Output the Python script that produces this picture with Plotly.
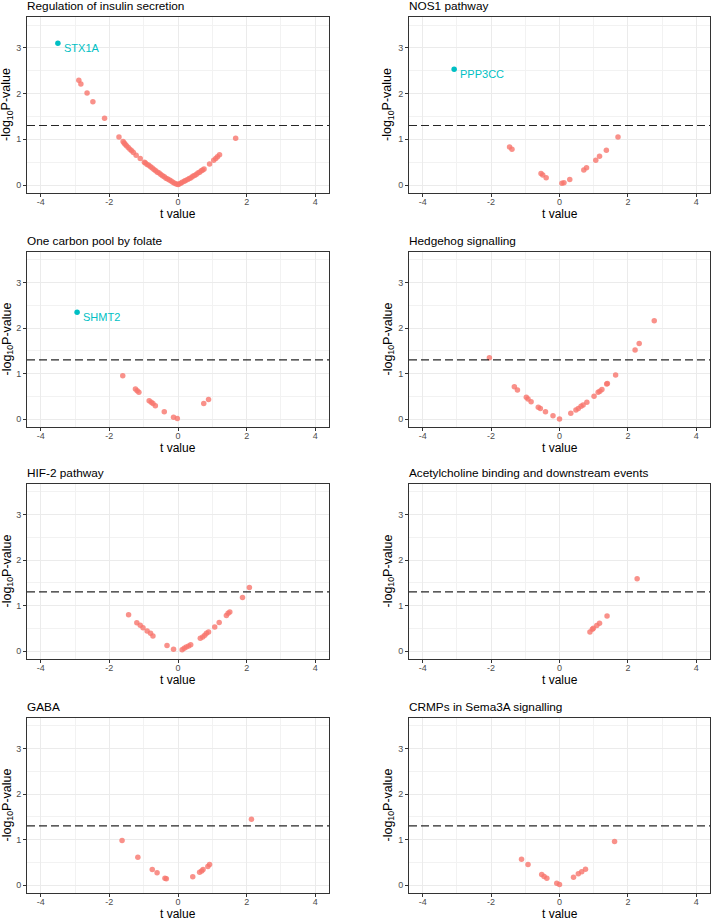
import plotly.graph_objects as go

# ---------------- data ----------------
panel_titles = [
    "Regulation of insulin secretion",
    "NOS1 pathway",
    "One carbon pool by folate",
    "Hedgehog signalling",
    "HIF-2 pathway",
    "Acetylcholine binding and downstream events",
    "GABA",
    "CRMPs in Sema3A signalling",
]

insulin_t = [-2.89, -2.83, -2.65, -2.48, -2.14, -1.72, -1.60, -1.57, -1.54, -1.50, -1.45, -1.40,
             -1.35, -1.30, -1.22, -1.10, -0.98, -0.95, -0.90, -0.85, -0.80, -0.75, -0.70, -0.65,
             -0.60, -0.55, -0.50, -0.45, -0.40, -0.35, -0.30, -0.25, -0.20, -0.15, -0.10, -0.05,
             0.00, 0.03, 0.08, 0.12, 0.18, 0.22, 0.28, 0.33, 0.38, 0.43, 0.48, 0.53, 0.58, 0.63,
             0.68, 0.72, 0.76, 0.92, 1.04, 1.10, 1.15, 1.21, 1.68]
insulin_y = [2.29, 2.21, 2.01, 1.82, 1.46, 1.05, 0.95, 0.92, 0.89, 0.86, 0.82, 0.78,
             0.75, 0.71, 0.65, 0.58, 0.50, 0.48, 0.45, 0.43, 0.40, 0.37, 0.34, 0.31,
             0.28, 0.26, 0.23, 0.20, 0.18, 0.15, 0.13, 0.11, 0.09, 0.06, 0.04, 0.02,
             0.01, 0.02, 0.04, 0.06, 0.08, 0.10, 0.12, 0.14, 0.16, 0.19, 0.21, 0.23, 0.26, 0.28,
             0.31, 0.33, 0.35, 0.46, 0.54, 0.58, 0.62, 0.66, 1.02]
insulin_sig_t = [-3.50]
insulin_sig_y = [3.10]
insulin_sig_gene = ["STX1A"]

nos1_t = [-1.46, -1.39, -0.54, -0.49, -0.39, 0.07, 0.13, 0.30, 0.71, 0.79, 1.06, 1.17, 1.37, 1.71]
nos1_y = [0.83, 0.78, 0.25, 0.22, 0.16, 0.04, 0.05, 0.12, 0.33, 0.38, 0.54, 0.63, 0.76, 1.05]
nos1_sig_t = [-3.08]
nos1_sig_y = [2.53]
nos1_sig_gene = ["PPP3CC"]

folate_t = [-1.61, -1.24, -1.19, -1.14, -0.84, -0.78, -0.73, -0.66, -0.40, -0.13, -0.02, 0.75, 0.89]
folate_y = [0.95, 0.66, 0.62, 0.59, 0.40, 0.37, 0.34, 0.29, 0.16, 0.04, 0.01, 0.34, 0.43]
folate_sig_t = [-2.94]
folate_sig_y = [2.35]
folate_sig_gene = ["SHMT2"]

hedgehog_t = [-2.05, -1.32, -1.23, -0.97, -0.92, -0.83, -0.62, -0.56, -0.41, -0.19, 0.00, 0.33,
              0.48, 0.55, 0.63, 0.69, 0.80, 1.01, 1.13, 1.18, 1.24, 1.38, 1.40, 1.64, 2.21, 2.33, 2.77]
hedgehog_y = [1.35, 0.71, 0.64, 0.48, 0.44, 0.38, 0.26, 0.23, 0.16, 0.07, 0.00, 0.13,
              0.20, 0.23, 0.28, 0.31, 0.37, 0.50, 0.59, 0.61, 0.65, 0.77, 0.78, 0.97, 1.52, 1.66, 2.16]

hif2_t = [-1.44, -1.20, -1.10, -1.02, -0.90, -0.80, -0.73, -0.32, -0.13, 0.12, 0.18, 0.24, 0.31,
          0.37, 0.65, 0.72, 0.78, 0.83, 0.89, 1.07, 1.20, 1.41, 1.46, 1.51, 1.88, 2.08]
hif2_y = [0.80, 0.62, 0.57, 0.51, 0.44, 0.39, 0.33, 0.12, 0.04, 0.03, 0.06, 0.09, 0.11,
          0.14, 0.28, 0.31, 0.35, 0.39, 0.42, 0.53, 0.63, 0.78, 0.83, 0.86, 1.18, 1.40]

acetyl_t = [0.89, 0.96, 0.99, 1.09, 1.17, 1.39, 2.27]
acetyl_y = [0.42, 0.48, 0.50, 0.56, 0.61, 0.77, 1.59]

gaba_t = [-1.63, -1.17, -0.75, -0.61, -0.38, -0.34, 0.43, 0.63, 0.69, 0.73, 0.87, 0.92, 2.14]
gaba_y = [0.98, 0.61, 0.34, 0.27, 0.15, 0.14, 0.18, 0.28, 0.31, 0.34, 0.41, 0.45, 1.45]

crmp_t = [-1.11, -0.92, -0.52, -0.45, -0.37, -0.08, 0.00, 0.41, 0.55, 0.65, 0.76, 1.61]
crmp_y = [0.57, 0.45, 0.23, 0.19, 0.15, 0.04, 0.01, 0.17, 0.25, 0.29, 0.35, 0.96]

panels = [
    (insulin_t, insulin_y, insulin_sig_t, insulin_sig_y, insulin_sig_gene),
    (nos1_t, nos1_y, nos1_sig_t, nos1_sig_y, nos1_sig_gene),
    (folate_t, folate_y, folate_sig_t, folate_sig_y, folate_sig_gene),
    (hedgehog_t, hedgehog_y, [], [], []),
    (hif2_t, hif2_y, [], [], []),
    (acetyl_t, acetyl_y, [], [], []),
    (gaba_t, gaba_y, [], [], []),
    (crmp_t, crmp_y, [], [], []),
]

x_ticks = [-4, -2, 0, 2, 4]
x_ticktext = ["-4", "-2", "0", "2", "4"]
y_ticks = [0, 1, 2, 3]
threshold = 1.30103  # -log10(0.05)

# ---------------- layout ----------------
W, H = 712, 919
col_px = [(27, 329), (409, 710)]
row_px = [(17, 193), (252, 427), (484, 659), (718, 893)]
ylab_x = [7, 388]

FONT = "Liberation Sans, Arial, Helvetica, sans-serif"
salmon = "rgba(248,118,109,0.8)"
teal = "#00BFC4"

fig = go.Figure()
annotations = []
shapes = []
layout = {}

axis_common = dict(
    showline=True, mirror=True, linecolor="#333333", linewidth=1,
    ticks="outside", ticklen=3, tickwidth=1, tickcolor="#333333",
    tickfont=dict(size=9, color="#4d4d4d", family=FONT),
    showgrid=True, gridcolor="#ebebeb", gridwidth=1, zeroline=False,
    fixedrange=True,
)

for i, (t, y, st, sy, sg) in enumerate(panels):
    r, c = divmod(i, 2)
    s = "" if i == 0 else str(i + 1)
    x0, x1 = col_px[c]
    top, bot = row_px[r]
    layout[f"xaxis{s}"] = dict(
        axis_common, domain=[x0 / W, x1 / W], anchor=f"y{s}", range=[-4.4, 4.4],
        tickmode="array", tickvals=x_ticks, ticktext=x_ticktext, ticklabelstandoff=-3,
        minor=dict(tickmode="linear", tick0=-5, dtick=1, showgrid=True,
                   gridcolor="#f2f2f2", gridwidth=0.6, ticks=""),
    )
    layout[f"yaxis{s}"] = dict(
        axis_common, domain=[1 - bot / H, 1 - top / H], anchor=f"x{s}", range=[-0.175, 3.675],
        tickmode="array", tickvals=y_ticks,
        minor=dict(tickmode="linear", tick0=0.5, dtick=1, showgrid=True,
                   gridcolor="#f2f2f2", gridwidth=0.6, ticks=""),
    )
    # threshold line
    shapes.append(dict(type="line", xref=f"x{s} domain", yref=f"y{s}", x0=0, x1=1,
                       y0=threshold, y1=threshold,
                       line=dict(color="rgba(0,0,0,0.85)", width=1.2, dash="8px,4px"),
                       layer="above"))
    fig.add_trace(go.Scatter(x=t, y=y, mode="markers", xaxis=f"x{s}", yaxis=f"y{s}",
                             marker=dict(size=5.5, color=salmon, line=dict(width=0)),
                             showlegend=False, hoverinfo="x+y"))
    if st:
        fig.add_trace(go.Scatter(x=st, y=sy, mode="markers", xaxis=f"x{s}", yaxis=f"y{s}",
                                 marker=dict(size=5.5, color=teal, line=dict(width=0)),
                                 showlegend=False, hoverinfo="x+y"))
        for gx, gy, gn in zip(st, sy, sg):
            annotations.append(dict(x=gx, y=gy, xref=f"x{s}", yref=f"y{s}", text=gn,
                                    showarrow=False, xanchor="left", yanchor="middle",
                                    xshift=4, yshift=-5,
                                    font=dict(size=11, color=teal, family=FONT)))
    # panel title
    annotations.append(dict(x=x0 / W, y=1 - (top - 11) / H, xref="paper", yref="paper",
                            text=panel_titles[i], showarrow=False, xanchor="left",
                            yanchor="middle", xshift=-2,
                            font=dict(size=11.8, color="black", family=FONT)))
    # x axis title
    annotations.append(dict(x=(x0 + x1) / 2 / W, y=1 - (bot + 21) / H, xref="paper", yref="paper",
                            text="t value", showarrow=False, xanchor="center", yanchor="middle",
                            font=dict(size=12, color="black", family=FONT)))
    # y axis title
    annotations.append(dict(x=ylab_x[c] / W, y=1 - (top + bot) / 2 / H, xref="paper", yref="paper",
                            text="-log<sub>10</sub>P-value", showarrow=False, textangle=-90,
                            xanchor="center", yanchor="middle",
                            font=dict(size=12.5, color="black", family=FONT)))

fig.update_layout(
    **layout,
    width=W, height=H,
    margin=dict(l=0, r=0, t=0, b=0),
    paper_bgcolor="white", plot_bgcolor="white",
    annotations=annotations, shapes=shapes,
    showlegend=False,
    font=dict(family=FONT),
)

fig.write_html(
    "out.html",
    config={"displayModeBar": False, "staticPlot": False},
    post_script="document.body.style.margin='0px';document.body.style.overflow='hidden';",
)
